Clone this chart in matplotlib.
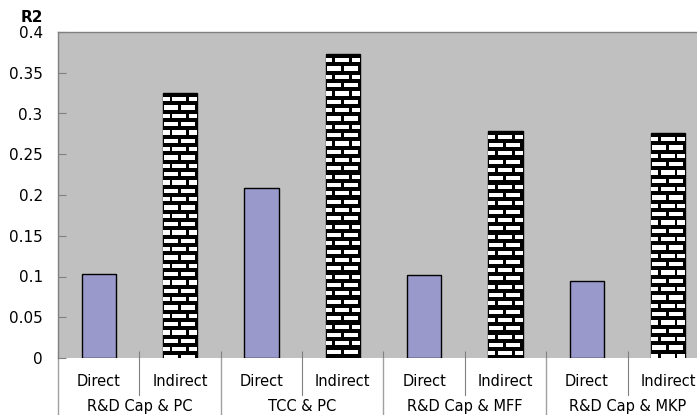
import matplotlib
matplotlib.use("Agg")
import matplotlib.pyplot as plt
from matplotlib.patches import Rectangle
from matplotlib.transforms import IdentityTransform, blended_transform_factory

# Data
groups = ["R&D Cap & PC", "TCC & PC", "R&D Cap & MFF", "R&D Cap & MKP"]
effects = ["Direct", "Indirect"]
direct_r2 = [0.103, 0.209, 0.102, 0.095]
indirect_r2 = [0.325, 0.373, 0.279, 0.276]
y_ticks = [0, 0.05, 0.1, 0.15, 0.2, 0.25, 0.3, 0.35, 0.4]
y_tick_labels = ["0", "0.05", "0.1", "0.15", "0.2", "0.25", "0.3", "0.35", "0.4"]

plt.rcParams["font.family"] = ["DejaVu Sans"]

W, H, DPI = 697, 415, 100
fig = plt.figure(figsize=(W / DPI, H / DPI), dpi=DPI)
fig.patch.set_facecolor("white")

ax_left, ax_bottom = 58 / W, (H - 358) / H
ax_w, ax_h = 651 / W, 326 / H
ax = fig.add_axes([ax_left, ax_bottom, ax_w, ax_h])
ax.set_facecolor("#C0C0C0")

n = len(groups) * 2
ax.set_xlim(-0.5, n - 0.5)
ax.set_ylim(0, 0.4)

bar_w = 0.42
direct_x = [2 * i for i in range(len(groups))]
indirect_x = [2 * i + 1 for i in range(len(groups))]

ax.bar(direct_x, direct_r2, width=bar_w, color="#9999CC",
       edgecolor="black", linewidth=1.0, zorder=3)
ind_bars = ax.bar(indirect_x, indirect_r2, width=bar_w, color="black",
                  edgecolor="black", linewidth=1.0, zorder=3)

# Brick texture for the indirect bars, laid out in pixel space
fig.canvas.draw()
row_pitch, brick_h = 8.33, 4.2
brick_len, brick_gap = 14.0, 2.8
period = brick_len + brick_gap
for bar in ind_bars:
    bb = bar.get_window_extent()
    x0, x1, y0, y1 = bb.x0, bb.x1, bb.y0, bb.y1
    row = 0
    y = y1 - 4.0 - brick_h
    while y > y0 - brick_h:
        offset = 1.0 if row % 2 else 1.0 - period / 2
        x = x0 + offset
        while x < x1:
            r = Rectangle((x, y), brick_len, brick_h, facecolor="white",
                          edgecolor="none", transform=IdentityTransform(),
                          zorder=4)
            fig.add_artist(r)
            r.set_clip_path(bar)
            x += period
        y -= row_pitch
        row += 1

# Spines and ticks
for side in ["top", "left"]:
    ax.spines[side].set_color("#808080")
    ax.spines[side].set_linewidth(1.0)
ax.spines["right"].set_visible(False)
ax.spines["bottom"].set_visible(False)

ax.set_yticks(y_ticks)
ax.set_yticklabels(y_tick_labels)
ax.tick_params(axis="y", direction="in", length=6, width=0.8,
               color="#808080", pad=11, labelsize=11, labelcolor="black")

bounds = [i - 0.5 for i in range(n + 1)]
ax.set_xticks(bounds)
ax.set_xticklabels([])
ax.tick_params(axis="x", direction="in", length=5, width=0.8,
               color="#808080", bottom=True)

# Category labels and separators below the plot
tr = blended_transform_factory(ax.transData, ax.transAxes)
for i in range(n):
    ax.text(i, -0.071, effects[i % 2], transform=tr, ha="center",
            va="center", fontsize=10.5)
for g, name in enumerate(groups):
    ax.text(2 * g + 0.5, -0.150, name, transform=tr, ha="center",
            va="center", fontsize=10.5)
for b in bounds:
    if round(b + 0.5) % 2 == 0:
        ax.plot([b, b], [0, -0.19], transform=tr, color="#A0A0A0",
                linewidth=1.0, clip_on=False)
    else:
        ax.plot([b, b], [0, -0.113], transform=tr, color="#808080",
                linewidth=0.8, clip_on=False)

fig.text(32 / W, 1 - 17 / H, "R2", ha="center", va="center",
         fontsize=11, fontweight="bold")

fig.savefig("out.png", dpi=DPI)
